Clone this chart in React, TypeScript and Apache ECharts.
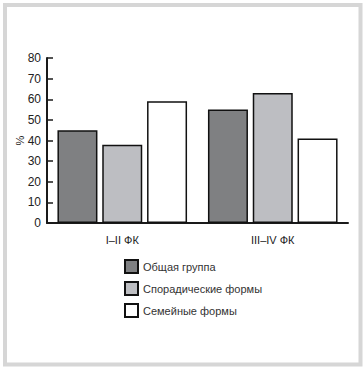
import React, { useEffect, useRef } from "react";
import * as echarts from "echarts";

const categories = ["I–II ФК", "III–IV ФК"];
const seriesNames = ["Общая группа", "Спорадические формы", "Семейные формы"];
const generalGroup = [45, 55];
const sporadicForms = [38, 63];
const familyForms = [59, 41];
const yTicks = { min: 0, max: 80, interval: 10 };

const colors = ["#7f8082", "#bdbec2", "#ffffff"];

export default function App() {
  const ref = useRef<HTMLDivElement>(null);
  useEffect(() => {
    if (!ref.current) return;
    const chart = echarts.init(ref.current, undefined, { renderer: "svg" });
    const font = "Liberation Sans, Arial, sans-serif";
    const data = [generalGroup, sporadicForms, familyForms];
    chart.setOption({
      animation: false,
      backgroundColor: "#ffffff",
      textStyle: { fontFamily: font },
      graphic: [
        {
          type: "rect",
          shape: { x: 5, y: 5, width: 355.5, height: 359.5 },
          style: { fill: "none", stroke: "#d6d6d6", lineWidth: 4 },
          silent: true,
        },
      ],
      grid: { left: 47, top: 58, right: 16, bottom: 147 },
      legend: {
        orient: "vertical",
        left: 124,
        top: 259,
        padding: 0,
        itemWidth: 13,
        itemHeight: 13,
        itemGap: 7,
        icon: "rect",
        data: seriesNames,
        textStyle: { fontSize: 11, color: "#333", fontFamily: font },
      },
      xAxis: {
        type: "category",
        data: categories,
        axisLine: { lineStyle: { color: "#1a1a1a", width: 2 } },
        axisTick: { inside: true, length: 6, interval: 0, lineStyle: { color: "#1a1a1a", width: 1.5 } },
        axisLabel: { fontSize: 11, color: "#222", margin: 11, fontFamily: font },
      },
      yAxis: {
        type: "value",
        min: yTicks.min,
        max: yTicks.max,
        interval: yTicks.interval,
        name: "%",
        nameLocation: "middle",
        nameRotate: 90,
        nameGap: 22,
        nameMoveOverlap: false,
        nameTextStyle: { fontSize: 11, color: "#222", fontFamily: font },
        splitLine: { show: false },
        axisLine: { show: true, lineStyle: { color: "#1a1a1a", width: 2 } },
        axisTick: { show: true, inside: true, length: 6, lineStyle: { color: "#1a1a1a", width: 1.5 } },
        axisLabel: { fontSize: 12, color: "#222", margin: 6, fontFamily: font },
      },
      series: seriesNames.map((name, i) => ({
        name,
        type: "bar",
        data: data[i],
        barWidth: 40,
        barGap: "12%",
        itemStyle: { color: colors[i], borderColor: "#111", borderWidth: 1.5 },
      })),
    });
    return () => chart.dispose();
  }, []);
  return (
    <div
      ref={ref}
      style={{ position: "fixed", left: 0, top: 0, width: 364, height: 370 }}
    />
  );
}
